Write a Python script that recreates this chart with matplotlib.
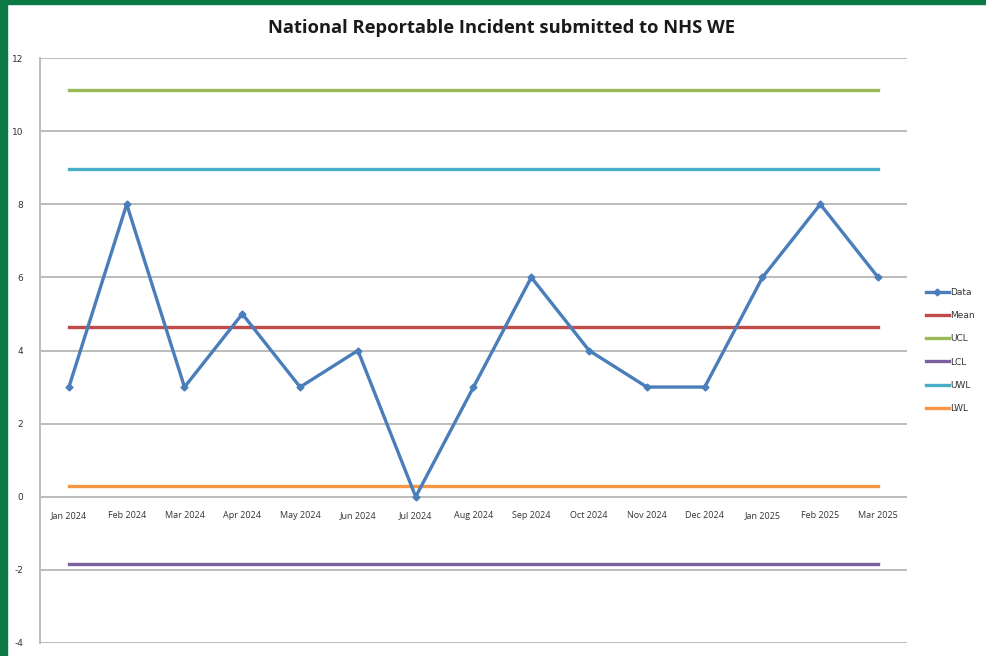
import matplotlib.pyplot as plt
from matplotlib.patches import Rectangle

plt.rcParams['axes.unicode_minus'] = False

months = ['Jan 2024', 'Feb 2024', 'Mar 2024', 'Apr 2024', 'May 2024', 'Jun 2024',
          'Jul 2024', 'Aug 2024', 'Sep 2024', 'Oct 2024', 'Nov 2024', 'Dec 2024',
          'Jan 2025', 'Feb 2025', 'Mar 2025']
incidents = [3, 8, 3, 5, 3, 4, 0, 3, 6, 4, 3, 3, 6, 8, 6]

mean_val = 4.63
ucl_val = 11.12
lcl_val = -1.85
uwl_val = 8.96
lwl_val = 0.30

fig = plt.figure(figsize=(9.87, 6.56), dpi=100)
fig.patch.set_facecolor('white')

# green frame on the top and left edges
green = '#0b7a46'
fig.add_artist(Rectangle((0, 0), 7 / 987, 1, transform=fig.transFigure, color=green, zorder=10))
fig.add_artist(Rectangle((0, 1 - 4 / 656), 1, 4 / 656, transform=fig.transFigure, color=green, zorder=10))

ax = fig.add_axes([40 / 987, 1 - 643 / 656, (907 - 40) / 987, (643 - 58) / 656])

x = list(range(len(months)))
n = len(months)
lw = 2.4
ax.plot(x, incidents, color='#4a7ebb', lw=lw, marker='D', ms=3.5, label='Data', zorder=5)
ax.plot(x, [mean_val] * n, color='#be4b48', lw=lw, label='Mean')
ax.plot(x, [ucl_val] * n, color='#98b954', lw=lw, label='UCL')
ax.plot(x, [lcl_val] * n, color='#7d60a0', lw=lw, label='LCL')
ax.plot(x, [uwl_val] * n, color='#4bacc6', lw=lw, label='UWL')
ax.plot(x, [lwl_val] * n, color='#f79646', lw=lw, label='LWL')

ax.set_xlim(-0.5, n - 0.5)
ax.set_ylim(-4, 12)
ax.set_yticks(range(-4, 13, 2))
ax.yaxis.grid(True, color='#bcbcbc', lw=1.4)
ax.set_axisbelow(True)
for s in ['top', 'right', 'bottom']:
    ax.spines[s].set_visible(False)
ax.spines['left'].set_color('#bcbcbc')
ax.spines['left'].set_linewidth(1.4)
ax.tick_params(axis='y', length=0, pad=12, labelsize=6.5, labelcolor='#333333')

# month labels sit just under the zero line
ax.set_xticks([])
for i, m in enumerate(months):
    ax.text(i, -0.38, m, ha='center', va='top', fontsize=6.5, color='#333333',
            family='Open Sans')

fig.text(502 / 987, 1 - 28 / 656, 'National Reportable Incident submitted to NHS WE',
         ha='center', va='center', fontsize=13.2, fontweight='bold',
         family='Open Sans', color='#1a1a1a')

ax.legend(loc='center left', bbox_to_anchor=(1.012, 0.5), frameon=False,
          fontsize=6.5, handlelength=2.6, handletextpad=0.1, labelspacing=1.57,
          labelcolor='#333333')

fig.savefig('out.png', dpi=100)
